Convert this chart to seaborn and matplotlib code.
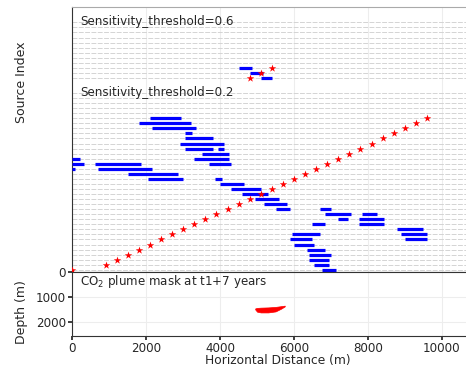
import numpy as np
import pandas as pd
import matplotlib
matplotlib.use("Agg")
import matplotlib.pyplot as plt
import seaborn as sns

# ---------------- data ----------------
# red stars: source positions (row index, horizontal distance)
src_row = list(range(0, 31)) + [38, 39, 40]
src_x = [0, 900, 1200, 1500, 1800, 2100, 2400, 2700, 3000, 3300, 3600,
         3900, 4200, 4500, 4800, 5100, 5400, 5700, 6000, 6300, 6600,
         6900, 7200, 7500, 7800, 8100, 8400, 8700, 9000, 9300, 9600,
         4800, 5100, 5400]

# blue segments: sensitive receiver ranges per source row
seg_row = [30, 29, 28, 27, 26, 25, 24, 24, 23, 22, 22, 21, 21, 21, 20, 20,
           19, 18, 18, 17, 16, 15, 14, 13, 12, 12, 11, 11, 10, 10, 9, 9,
           8, 7, 7, 6, 6, 5, 4, 3, 2, 1, 0, 38, 39, 40]
seg_start = [2100, 1800, 2150, 3050, 3050, 2900, 3050, 3950, 3500, 0, 3300,
             0, 600, 3700, 0, 680, 1500, 2050, 3850, 4000, 4300, 4600, 4950,
             5200, 5500, 6700, 6850, 7850, 7200, 7750, 6500, 7750, 8800,
             5950, 8900, 5900, 9000, 6000, 6350, 6400, 6400, 6550, 6750,
             5100, 4800, 4500]
seg_end = [2950, 3200, 3350, 3250, 3800, 4100, 3800, 4100, 4250, 200, 4250,
           320, 1850, 4300, 60, 2150, 2850, 3000, 4050, 4650, 5100, 5300,
           5600, 5800, 5900, 7000, 7550, 8250, 7450, 8450, 6850, 8450, 9500,
           6700, 9600, 6500, 9600, 6550, 6850, 7000, 6950, 6950, 7150,
           5400, 5150, 4850]

# dashed guide rows
guide_rows = list(range(0, 36)) + list(range(38, 50))

# CO2 plume outline (horizontal distance, top depth, bottom depth)
plume_x = [4950, 5000, 5100, 5300, 5500, 5650, 5750]
plume_top = [1440, 1420, 1410, 1400, 1380, 1350, 1330]
plume_bot = [1480, 1570, 1600, 1600, 1560, 1450, 1360]

x_ticks = [0, 2000, 4000, 6000, 8000, 10000]
depth_ticks = [0, 1000, 2000]

# ---------------- figure ----------------
sns.set_theme(style="ticks")
plt.rcParams['font.family'] = ['DejaVu Sans']

W, H = 466, 368
fig = plt.figure(figsize=(W / 100, H / 100), dpi=100)
left_px, right_px = 72.45, 467.5
top_px, mid_px, bot_px = 6.7, 272.3, 336.0
ax1 = fig.add_axes([left_px / W, (H - mid_px) / H,
                    (right_px - left_px) / W, (mid_px - top_px) / H])
ax2 = fig.add_axes([left_px / W, (H - bot_px) / H,
                    (right_px - left_px) / W, (bot_px - mid_px) / H],
                   sharex=ax1)

grid_kw = dict(color="#ededed", linewidth=0.8)
for ax in (ax1, ax2):
    ax.grid(True, **grid_kw)
    ax.set_axisbelow(True)
    for s in ax.spines.values():
        s.set_color("#333333")
        s.set_linewidth(0.8)
ax1.spines["top"].set_color("#aaaaaa")

# top panel
for r in guide_rows:
    ax1.axhline(r, color="#d4d4d4", linestyle=(0, (5, 1.5)), linewidth=0.7,
                zorder=1)
ax1.hlines(seg_row, seg_start, seg_end, color="#0000ff", linewidth=2.3,
           zorder=3)
src_df = pd.DataFrame({"x": src_x, "row": src_row})
sns.scatterplot(data=src_df, x="x", y="row", marker="*", color="#ff0000",
                s=32, linewidth=0, ax=ax1, zorder=4, clip_on=True)
ax1.set_ylim(-0.5, 52.1)
ax1.set_xlim(0, 10700)
ax1.set_yticks([])
ax1.set_xlabel("")
ax1.set_ylabel("Source Index", fontsize=9)
ax1.yaxis.set_label_coords(-0.1125, 0.716)
ax1.tick_params(labelbottom=False, bottom=False)
ax1.grid(False, axis="y")
ax1.text(0.019, 0.946, "Sensitivity_threshold=0.6", transform=ax1.transAxes,
         fontsize=8.6, va="center", ha="left")
ax1.text(0.019, 0.677, "Sensitivity_threshold=0.2", transform=ax1.transAxes,
         fontsize=8.6, va="center", ha="left")

# bottom panel
ax2.fill_between(plume_x, plume_top, plume_bot, color="#ff0000",
                 linewidth=0.5, edgecolor="#ff0000", zorder=3)
ax2.set_ylim(2540, 0)
ax2.set_yticks(depth_ticks)
ax2.set_xticks(x_ticks)
ax2.set_xlim(0, 10700)
ax2.tick_params(labelsize=8.6, length=3, pad=1.5)
ax2.set_ylabel("Depth (m)", fontsize=9)
ax2.yaxis.set_label_coords(-0.1125, 0.38)
ax2.set_xlabel("Horizontal Distance (m)", fontsize=8.8)
ax2.xaxis.set_label_coords(0.52, -0.29)
ax2.text(0.019, 0.863, "CO$_2$ plume mask at t1+7 years",
         transform=ax2.transAxes, fontsize=8.6, va="center", ha="left")

fig.savefig("out.png", dpi=100)
